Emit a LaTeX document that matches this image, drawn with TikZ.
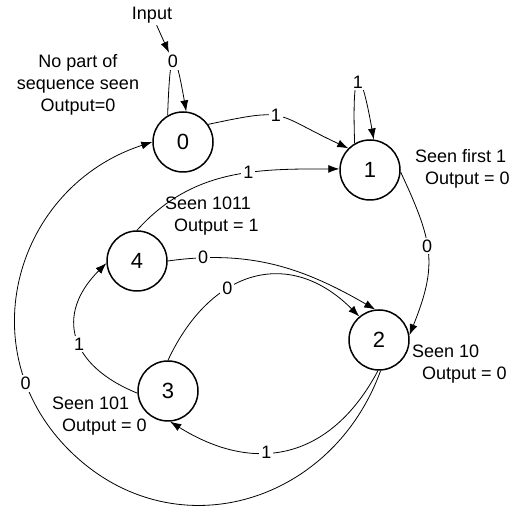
\documentclass[tikz,border=0pt]{standalone}
\usepackage{fontspec}
\setmainfont{Liberation Sans}
\usepackage{tikz}
\usetikzlibrary{arrows.meta,positioning}

\begin{document}
\begin{tikzpicture}[x=1pt,y=1pt,
  state/.style={draw,circle,line width=1.5pt,minimum size=60pt,inner sep=0pt,font=\fontsize{22}{24}\selectfont},
  lbl/.style={fill=white,inner sep=2pt,font=\fontsize{18}{22}\selectfont},
  note/.style={align=left,inner sep=0pt,font=\fontsize{18}{22}\selectfont},
  arr/.style={-{Latex[length=11pt,width=8pt]},line width=0.8pt}]
\useasboundingbox (0,0) rectangle (509,510);
% states
\node[state] (s0) at (183,368) {0};
\node[state] (s1) at (370,340) {1};
\node[state] (s4) at (137,249) {4};
\node[state] (s3) at (168,119) {3};
\node[state] (s2) at (379,170) {2};
% notes
\node[note,align=center] (n0) at (78,425) {No part of\\sequence seen\\Output=0};
\node[note,anchor=west] (n1) at (415,341) {Seen first 1\\\hspace*{10pt}Output = 0};
\node[note,anchor=west] (n4) at (165,294) {Seen 1011\\\hspace*{9pt}Output = 1};
\node[note,anchor=west] (n3) at (52,94) {Seen 101\\\hspace*{10pt}Output = 0};
\node[note,anchor=west] (n2) at (412,146) {Seen 10\\\hspace*{10pt}Output = 0};
\node[lbl,fill=none] (input) at (152,495) {Input};
\coordinate (arcmid) at (69,60);
% transitions
\draw[arr] (s0.120) to[out=88,in=100,min distance=70] node[lbl,pos=0.48] (lab0) {0} (s0.84);
\draw[arr] (input) -- (lab0);
\draw[arr] (s1.120) to[out=92,in=100,min distance=80] node[lbl,pos=0.5] {1} (s1.83);
\draw[arr] (s0.35) to[out=12,in=155,looseness=1.5] node[lbl,pos=0.45] {1} (s1.135);
\draw[arr] (s4.90) to[out=48,in=180] node[lbl,pos=0.6] {1} (s1.178);
\draw[arr] (s1.-4) to[out=-65,in=68,looseness=1.2] node[lbl,pos=0.45] {0} (s2.9);
\draw[arr] (s4.0) to[out=8,in=150] node[lbl,pos=0.15] {0} (s2.97);
\draw[arr] (s3.90) to[out=65,in=135,looseness=1.3] node[lbl,pos=0.37] {0} (s2.130);
\draw[arr] (s3.184) to[out=158,in=225,looseness=1.4] node[lbl,pos=0.45] {1} (s4.184);
\draw[arr] (s2.-92) to[out=-118,in=-32,looseness=1.2] node[lbl,pos=0.6] {1} (s3.-86);
\draw[arr] (s2.-87) to[out=-110,in=-45,looseness=1.15] (arcmid)
  to[out=135,in=198,looseness=1.15] node[lbl,pos=0.2] {0} (s0.180);
\end{tikzpicture}
\end{document}
